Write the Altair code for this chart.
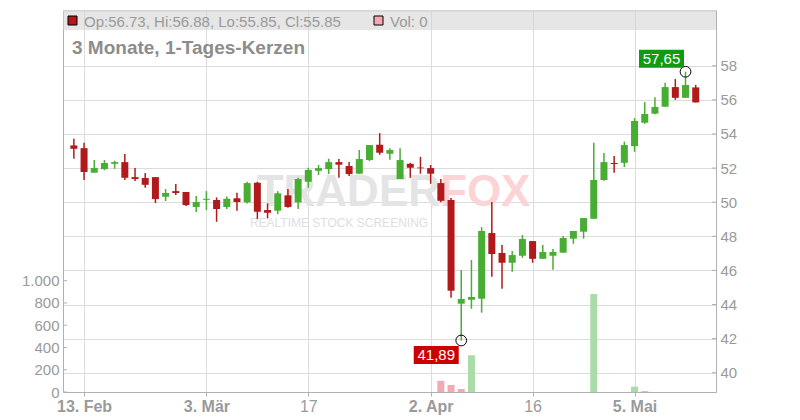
import altair as alt
import pandas as pd
import numpy as np

# ---------------- data ----------------
dates = [
    "2025-02-12", "2025-02-13", "2025-02-14", "2025-02-17", "2025-02-18", "2025-02-19",
    "2025-02-20", "2025-02-21", "2025-02-24", "2025-02-25", "2025-02-26", "2025-02-27",
    "2025-02-28", "2025-03-03", "2025-03-04", "2025-03-05", "2025-03-06", "2025-03-07",
    "2025-03-10", "2025-03-11", "2025-03-12", "2025-03-13", "2025-03-14", "2025-03-17",
    "2025-03-18", "2025-03-19", "2025-03-20", "2025-03-21", "2025-03-24", "2025-03-25",
    "2025-03-26", "2025-03-27", "2025-03-28", "2025-03-31", "2025-04-01", "2025-04-02",
    "2025-04-03", "2025-04-04", "2025-04-07", "2025-04-08", "2025-04-09", "2025-04-10",
    "2025-04-11", "2025-04-14", "2025-04-15", "2025-04-16", "2025-04-17", "2025-04-22",
    "2025-04-23", "2025-04-24", "2025-04-25", "2025-04-28", "2025-04-29", "2025-04-30",
    "2025-05-02", "2025-05-05", "2025-05-06", "2025-05-07", "2025-05-08", "2025-05-09",
    "2025-05-12", "2025-05-13",
]
opens = [
    53.33, 53.17, 51.73, 51.94, 52.25, 52.35, 51.47, 51.42, 51.47, 50.32, 50.65, 50.60,
    49.72, 50.14, 50.13, 49.72, 50.23, 49.99, 51.14, 49.54, 49.50, 50.40, 49.99, 51.20,
    51.84, 51.94, 52.35, 52.12, 51.67, 52.47, 53.37, 52.84, 51.36, 52.25, 52.03, 52.00,
    51.12, 50.13, 44.05, 44.28, 44.34, 48.19, 47.02, 46.45, 46.86, 47.72, 46.68, 46.86,
    47.04, 47.86, 48.27, 49.03, 51.30, 52.30, 52.31, 53.29, 54.66, 55.19, 55.60, 56.75,
    56.12, 56.73,
]
highs = [
    53.72, 53.49, 52.47, 52.47, 52.43, 52.82, 52.00, 51.71, 51.47, 50.77, 51.06, 50.60,
    50.36, 50.65, 50.28, 50.34, 50.55, 51.20, 51.20, 49.93, 50.65, 50.77, 51.43, 52.02,
    52.18, 52.55, 52.53, 52.35, 53.06, 53.35, 54.05, 53.17, 53.17, 52.31, 52.66, 52.18,
    51.36, 50.24, 46.02, 46.61, 48.54, 50.01, 47.49, 47.14, 48.07, 47.72, 47.49, 47.25,
    48.02, 48.31, 49.07, 53.49, 52.88, 52.71, 53.55, 54.93, 55.87, 56.16, 57.00, 57.22,
    57.65, 56.88,
]
lows = [
    52.55, 51.30, 51.73, 51.88, 51.96, 51.30, 51.24, 50.85, 49.95, 50.07, 50.42, 49.78,
    49.42, 49.54, 48.85, 49.60, 49.50, 49.93, 49.01, 49.05, 49.30, 49.67, 49.60, 50.85,
    51.59, 51.65, 51.43, 51.53, 51.67, 52.41, 52.78, 52.49, 51.36, 51.43, 51.67, 51.08,
    49.99, 44.40, 41.89, 43.75, 43.52, 45.63, 44.93, 45.92, 46.74, 46.45, 46.68, 46.04,
    47.04, 47.56, 47.86, 49.03, 51.26, 51.73, 52.06, 52.96, 54.60, 55.15, 55.60, 56.00,
    56.12, 55.85,
]
closes = [
    53.13, 51.77, 52.00, 52.30, 52.35, 51.43, 51.36, 51.02, 50.18, 50.54, 50.54, 49.83,
    50.01, 50.20, 49.60, 50.20, 50.01, 51.12, 49.44, 49.38, 50.52, 49.72, 51.36, 51.89,
    52.00, 52.35, 52.20, 51.65, 52.53, 53.35, 52.90, 53.06, 52.47, 52.02, 51.99, 51.67,
    50.08, 44.81, 44.32, 44.44, 48.31, 46.96, 46.45, 46.90, 47.84, 46.68, 47.08, 47.08,
    47.90, 48.31, 49.07, 51.30, 52.35, 52.24, 53.35, 54.76, 55.17, 55.58, 56.75, 56.12,
    56.87, 55.85,
]
volumes = [
    0, 0, 0, 0, 0, 0, 0, 0, 0, 0, 0, 0,
    0, 0, 0, 0, 0, 0, 0, 0, 0, 0, 0, 0,
    0, 0, 0, 0, 0, 0, 0, 0, 0, 0, 0, 0,
    100, 63, 27, 330, 0, 0, 0, 0, 0, 0, 0, 0,
    0, 0, 0, 880, 0, 0, 0, 48, 9, 0, 0, 0,
    0, 0,
]

tick_dates = ["2025-02-13", "2025-03-03", "2025-03-17", "2025-04-02", "2025-04-16", "2025-05-05"]
tick_labels = ["13. Feb", "3. Mär", "17", "2. Apr", "16", "5. Mai"]
tick_bold = [True, True, False, True, False, True]
price_ticks = [40, 42, 44, 46, 48, 50, 52, 54, 56, 58]
vol_ticks = [0, 200, 400, 600, 800, 1000]
title_text = "3 Monate, 1-Tages-Kerzen"
wm_left, wm_right, wm_sub = "TRADER", "FOX", "REALTIME STOCK SCREENING"

# ---------------- styles ----------------
RED = "#b2191a"
GREEN = "#48ad33"
VOL_RED = "#f2a9b1"
VOL_GREEN = "#aadca7"
GRID = "#dcdcdc"
AXIS = "#b0b0b0"
LABEL = "#9a9a9a"
FONT = "Liberation Sans"
W, H = 653, 382

df = pd.DataFrame({"date": dates, "open": opens, "high": highs, "low": lows,
                   "close": closes, "volume": volumes})
df["i"] = np.arange(len(df))
df["dir"] = np.where(df["close"] >= df["open"], "up", "down")
prev = df["close"].shift(1).fillna(df["open"])
df["vdir"] = np.where(df["close"] >= prev, "up", "down")

tick_pos = [int(df.index[df["date"] == d][0]) for d in tick_dates]
label_expr = " : ".join(f"datum.value == {p} ? '{l}'" for p, l in zip(tick_pos, tick_labels)) + " : ''"
bold_test = " || ".join(f"datum.value == {p}" for p, b in zip(tick_pos, tick_bold) if b)

xs = alt.Scale(domain=[-0.575, 62.5], nice=False, zero=False)
ps = alt.Scale(domain=[38.87, 61.27], nice=False, zero=False)
vs = alt.Scale(domain=[0, 3432], nice=False, zero=False)

x_axis = alt.Axis(values=tick_pos, labelExpr=label_expr, grid=True, gridColor=GRID,
                  domainColor=AXIS, tickColor=AXIS, tickSize=4, labelPadding=2,
                  labelFontSize=16, labelColor=LABEL, labelFont=FONT,
                  labelFontWeight={"condition": {"test": bold_test, "value": "bold"}, "value": "normal"},
                  labelOverlap=False, labelFlush=False, title=None)
x_enc = alt.X("i:Q", scale=xs, axis=x_axis)
col = alt.condition("datum.dir == 'up'", alt.value(GREEN), alt.value(RED))
vcol = alt.condition("datum.vdir == 'up'", alt.value(VOL_GREEN), alt.value(VOL_RED))

base = alt.Chart(df)

# watermark
wm = pd.DataFrame({"a": [wm_left], "b": [wm_right], "c": [wm_sub]})
wm1 = alt.Chart(wm).mark_text(align="right", baseline="alphabetic", fontSize=44, fontWeight="bold",
                              color="#e4e4e4", font=FONT).encode(
    x=alt.value(377), y=alt.value(196), text="a:N")
wm2 = alt.Chart(wm).mark_text(align="left", baseline="alphabetic", fontSize=44, fontWeight="bold",
                              color="#fcd4d7", font=FONT).encode(
    x=alt.value(377), y=alt.value(196), text="b:N")
wm3 = alt.Chart(wm).mark_text(align="center", baseline="middle", fontSize=12,
                              color="#dedede", font=FONT).encode(
    x=alt.value(276), y=alt.value(213), text="c:N")

# volume
vol = base.transform_filter("datum.volume > 0").mark_bar(size=7).encode(
    x=x_enc,
    y=alt.Y("volume:Q", scale=vs,
            axis=alt.Axis(orient="left", values=vol_ticks, grid=False, ticks=False, tickSize=0,
                          labelPadding=4, domainColor=AXIS, labelColor=LABEL, labelFontSize=15,
                          labelFont=FONT, title=None,
                          labelExpr="replace(format(datum.value, ','), ',', '.')")),
    color=vcol,
)

wick = base.mark_rule(strokeWidth=1.5).encode(
    x=x_enc,
    y=alt.Y("low:Q", scale=ps,
            axis=alt.Axis(orient="right", values=price_ticks, grid=True, gridColor=GRID,
                          ticks=False, tickSize=0, labelPadding=4, domainColor=AXIS,
                          labelColor=LABEL, labelFontSize=15, labelFont=FONT, format="d",
                          title=None)),
    y2="high:Q",
    color=col,
)
body = base.mark_bar(size=7).encode(
    x=x_enc,
    y=alt.Y("open:Q", scale=ps, axis=None),
    y2="close:Q",
    color=col,
)

# inward ticks
pt = pd.DataFrame({"v": price_ticks})
vt = pd.DataFrame({"v": vol_ticks})
ptick = alt.Chart(pt).mark_rule(color=AXIS).encode(
    y=alt.Y("v:Q", scale=ps, axis=None), x=alt.value(W - 4), x2=alt.value(W))
vtick = alt.Chart(vt).mark_rule(color=AXIS).encode(
    y=alt.Y("v:Q", scale=vs, axis=None), x=alt.value(0), x2=alt.value(4))

# header
last = df.iloc[-1]
header_text = (f"Op:{last.open:.2f}, Hi:{last.high:.2f}, Lo:{last.low:.2f}, Cl:{last.close:.2f}")
vol_text = f"Vol: {int(last.volume)}"
hd = pd.DataFrame({"t": [header_text], "v": [vol_text], "title": [title_text]})
hbar = alt.Chart(hd).mark_rect(color="#d2d2d2", opacity=0.55).encode(
    x=alt.value(0), x2=alt.value(W), y=alt.value(1), y2=alt.value(20))
htop = alt.Chart(hd).mark_rule(color="#cfcfcf").encode(
    x=alt.value(0), x2=alt.value(W), y=alt.value(1))
hsq1 = alt.Chart(hd).mark_square(size=81, color=RED, stroke="black", strokeWidth=1, opacity=1).encode(
    x=alt.value(9.5), y=alt.value(10.5))
hsq2 = alt.Chart(hd).mark_square(size=81, color=VOL_RED, stroke="black", strokeWidth=1, opacity=1).encode(
    x=alt.value(315.5), y=alt.value(10.5))
ht1 = alt.Chart(hd).mark_text(align="left", baseline="alphabetic", fontSize=15, color=LABEL, font=FONT).encode(
    x=alt.value(21), y=alt.value(16.5), text="t:N")
ht2 = alt.Chart(hd).mark_text(align="left", baseline="alphabetic", fontSize=15, color=LABEL, font=FONT).encode(
    x=alt.value(327), y=alt.value(16.5), text="v:N")
ttl = alt.Chart(hd).mark_text(align="left", baseline="alphabetic", fontSize=19, fontWeight="bold",
                              color="#8c8c8c", font=FONT).encode(
    x=alt.value(9), y=alt.value(44), text="title:N")

# annotations for max high / min low
imax = int(df["high"].idxmax())
imin = int(df["low"].idxmin())
ann = pd.DataFrame({
    "i": [imax, imin],
    "p": [df.loc[imax, "high"], df.loc[imin, "low"]],
    "kind": ["hi", "lo"],
})
ann["lab"] = ann["p"].map(lambda v: f"{v:.2f}".replace(".", ","))
box_shape = "M-1,-0.4L1,-0.4L1,0.4L-1,0.4Z"

def annotation(kind, color, dx, dy):
    a = alt.Chart(ann).transform_filter(f"datum.kind == '{kind}'")
    y_enc = alt.Y("p:Q", scale=ps, axis=None)
    circ = a.mark_point(shape="circle", size=115, filled=False, color="black", strokeWidth=1,
                        opacity=1).encode(x=x_enc, y=y_enc)
    box = a.mark_point(shape=box_shape, size=2025, filled=True, color=color, opacity=1,
                       xOffset=dx, yOffset=dy).encode(x=x_enc, y=y_enc)
    txt = a.mark_text(color="white", fontSize=15, font=FONT, dx=dx, dy=dy, align="center",
                      baseline="middle").encode(x=x_enc, y=y_enc, text="lab:N")
    return [circ, box, txt]

ann_layers = annotation("hi", "#129a12", -24, -13) + annotation("lo", "#cc0000", -25, 14.5)

chart = alt.layer(
    wm1, wm2, wm3, vol, wick, body, ptick, vtick,
    hbar, htop, hsq1, hsq2, ht1, ht2, ttl, *ann_layers
).resolve_scale(y="independent").properties(
    width=W, height=H,
    autosize=alt.AutoSizeParams(type="none"),
    padding={"left": 55, "top": 2, "right": 76, "bottom": 26},
).configure_view(stroke=None).configure(font=FONT)

chart.save("out.html", embed_options={"renderer": "svg", "actions": False})
